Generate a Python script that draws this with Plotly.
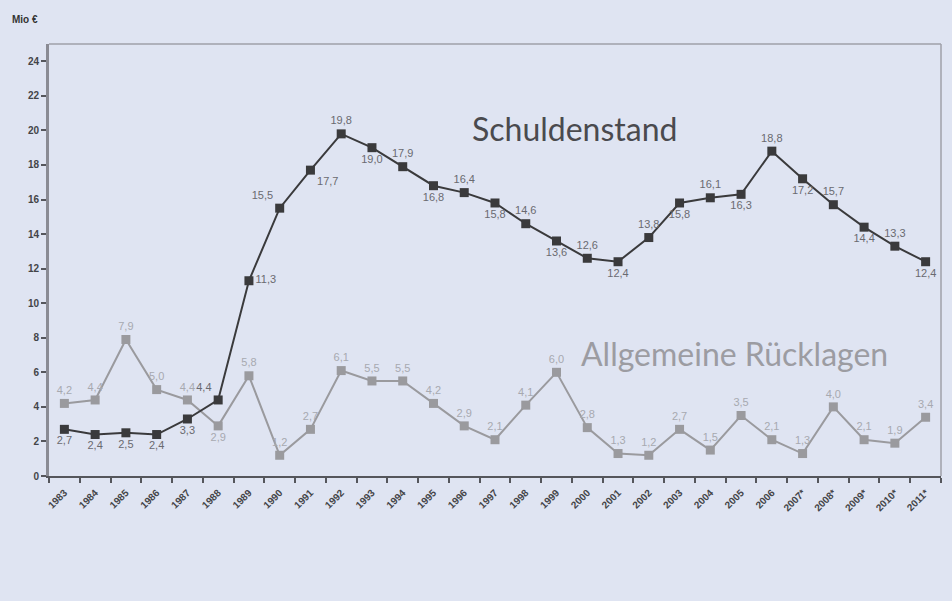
import plotly.graph_objects as go

years = ["1983", "1984", "1985", "1986", "1987", "1988", "1989", "1990", "1991", "1992",
         "1993", "1994", "1995", "1996", "1997", "1998", "1999", "2000", "2001", "2002",
         "2003", "2004", "2005", "2006", "2007*", "2008*", "2009*", "2010*", "2011*"]
schuldenstand = [2.7, 2.4, 2.5, 2.4, 3.3, 4.4, 11.3, 15.5, 17.7, 19.8,
                 19.0, 17.9, 16.8, 16.4, 15.8, 14.6, 13.6, 12.6, 12.4, 13.8,
                 15.8, 16.1, 16.3, 18.8, 17.2, 15.7, 14.4, 13.3, 12.4]
ruecklagen = [4.2, 4.4, 7.9, 5.0, 4.4, 2.9, 5.8, 1.2, 2.7, 6.1,
              5.5, 5.5, 4.2, 2.9, 2.1, 4.1, 6.0, 2.8, 1.3, 1.2,
              2.7, 1.5, 3.5, 2.1, 1.3, 4.0, 2.1, 1.9, 3.4]
y_ticks = list(range(0, 25, 2))

def fmt(v):
    return f"{v:.1f}".replace(".", ",")

schuld_pos = ["bottom center", "bottom center", "bottom center", "bottom center", "bottom center",
              "top left", "middle right", "top left", "bottom right", "top center",
              "bottom center", "top center", "bottom center", "top center", "bottom center",
              "top center", "bottom center", "top center", "bottom center", "top center",
              "bottom center", "top center", "bottom center", "top center", "bottom center",
              "top center", "bottom center", "top center", "bottom center"]
rueck_pos = ["top center"] * len(years)
rueck_pos[5] = "bottom center"

bg = "#dfe4f2"

fig = go.Figure()
fig.add_trace(go.Scatter(
    x=years, y=ruecklagen, mode="lines+markers+text",
    line=dict(color="#9a9a9e", width=2),
    marker=dict(symbol="square", size=9, color="#9a9a9e"),
    text=[fmt(v) for v in ruecklagen], textposition=rueck_pos,
    textfont=dict(family="Arial", size=11, color="#a7a9b0"),
    cliponaxis=False, showlegend=False))
fig.add_trace(go.Scatter(
    x=years, y=schuldenstand, mode="lines+markers+text",
    line=dict(color="#3a3a3c", width=2),
    marker=dict(symbol="square", size=9, color="#3a3a3c"),
    text=[fmt(v) for v in schuldenstand], textposition=schuld_pos,
    textfont=dict(family="Arial", size=11, color="#6a6a70"),
    cliponaxis=False, showlegend=False))

fig.update_layout(
    width=952, height=601,
    margin=dict(l=49, r=11, t=44, b=125),
    paper_bgcolor=bg, plot_bgcolor=bg,
    xaxis=dict(type="category", tickson="boundaries", tickangle=-45,
               showgrid=False, zeroline=False,
               showline=True, linecolor="#55565c", linewidth=2,
               ticks="outside", ticklen=5, tickcolor="#55565c", tickwidth=1.5,
               ticklabelstandoff=5,
               tickfont=dict(family="Arial", size=10, color="#444448", weight="bold"),
               range=[-0.5, len(years) - 0.5]),
    yaxis=dict(range=[0, 25], tickvals=y_ticks, ticktext=[str(t) for t in y_ticks],
               showgrid=False, zeroline=False,
               showline=True, linecolor="#8a8b94", linewidth=3,
               ticks="outside", ticklen=5, tickcolor="#55565c", tickwidth=1.5,
               tickfont=dict(family="Arial", size=10, color="#444448", weight="bold")),
    shapes=[
        dict(type="line", xref="paper", yref="paper", x0=0, x1=1, y0=1, y1=1,
             line=dict(color="#9fa0a8", width=1.5)),
        dict(type="line", xref="paper", yref="paper", x0=1, x1=1, y0=0, y1=1,
             line=dict(color="#9fa0a8", width=1.5)),
    ],
    annotations=[
        dict(text="Mio €", xref="paper", yref="paper", x=-0.01, y=1.0, xanchor="right",
             yanchor="bottom", yshift=17, showarrow=False,
             font=dict(family="Arial", size=10, color="#333", weight="bold")),
        dict(text="Schuldenstand", xref="x", yref="y", x=16.6, y=20.1,
             xanchor="center", yanchor="middle", showarrow=False,
             font=dict(family="Lato", size=32, color="#4a4a4e")),
        dict(text="Allgemeine Rücklagen", xref="x", yref="y", x=21.8, y=7.1,
             xanchor="center", yanchor="middle", showarrow=False,
             font=dict(family="Lato", size=32, color="#9c9ca2")),
    ],
)

fig.write_html("out.html", config={"displayModeBar": False},
               post_script="document.body.style.margin='0';")
